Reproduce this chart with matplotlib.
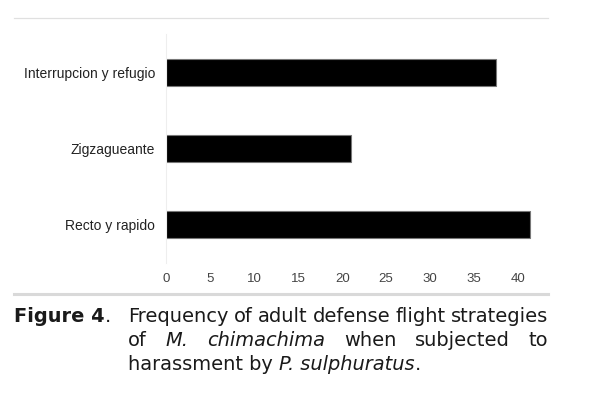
import matplotlib
matplotlib.use("Agg")
import matplotlib.pyplot as plt
from matplotlib.lines import Line2D

categories = ["Recto y rapido", "Zigzagueante", "Interrupcion y refugio"]
values = [41.4, 21.0, 37.5]
xticks = [0, 5, 10, 15, 20, 25, 30, 35, 40]

W, H = 589, 395
fig = plt.figure(figsize=(W / 100, H / 100), dpi=100)

def fx(px):
    return px / W

def fy(py):
    return 1 - py / H

ax_left, ax_right, ax_top, ax_bot = 166.4, 548, 34, 263
ax = fig.add_axes([fx(ax_left), fy(ax_bot), fx(ax_right - ax_left), (ax_bot - ax_top) / H])
ypos = list(range(len(categories)))
ax.barh(ypos, values, height=0.35, color="black", edgecolor="#777777", linewidth=0.8)
ax.set_xlim(0, (ax_right - ax_left) / 8.79)
ax.set_ylim(-0.5, len(categories) - 0.5)
ax.set_yticks(ypos)
ax.set_yticklabels(categories, fontfamily="Liberation Sans", fontsize=10, color="#222222")
ax.set_xticks(xticks)
ax.set_xticklabels([str(t) for t in xticks], fontfamily="Liberation Sans", fontsize=9.5, color="#444444")
ax.tick_params(axis="both", length=0)
ax.tick_params(axis="x", pad=7.5)
ax.tick_params(axis="y", pad=8)
for s in ["top", "right", "bottom"]:
    ax.spines[s].set_visible(False)
ax.spines["left"].set_color("#eeeeee")
ax.spines["left"].set_linewidth(0.8)

# decorative rules
fig.add_artist(Line2D([fx(14), fx(548)], [fy(18), fy(18)], color="#e0e0e0", lw=0.9))
fig.add_artist(Line2D([fx(14), fx(548)], [fy(294), fy(294)], color="#d9d9d9", lw=2.2))

# caption
cap_font = "DejaVu Sans"
col = "#1a1a1a"
renderer = fig.canvas.get_renderer()

def width_of(t):
    return t.get_window_extent(renderer=renderer).width

def measure(txt, size, **kw):
    t = fig.text(0, 0, txt, fontfamily=cap_font, fontsize=size, **kw)
    w = width_of(t)
    t.remove()
    return w

line1 = "Frequency of adult defense flight strategies"
cs = 12 * (548 - 128) / measure(line1, 12)

fig.text(fx(14), fy(322), "Figure 4", fontfamily=cap_font, fontsize=cs, color=col,
         weight="bold", va="baseline")
wb = measure("Figure 4", cs, weight="bold")
fig.text(fx(14) + wb / W, fy(322), ".", fontfamily=cap_font, fontsize=cs, color=col, va="baseline")

def justify(words, y, x0, x1):
    arts = []
    for txt, style in words:
        a = fig.text(0, fy(y), txt, fontfamily=cap_font, fontsize=cs, color=col,
                     style=style, va="baseline", ha="left")
        arts.append(a)
    widths = [width_of(a) for a in arts]
    gap = (x1 - x0 - sum(widths)) / (len(arts) - 1)
    x = x0
    for a, w in zip(arts, widths):
        a.set_x(fx(x))
        x += w + gap

justify([(w, "normal") for w in line1.split()], 322, 128, 548)
justify([("of", "normal"), ("M.", "italic"), ("chimachima", "italic"), ("when", "normal"),
         ("subjected", "normal"), ("to", "normal")], 346, 128, 548)

parts = [("harassment by ", "normal"), ("P. sulphuratus", "italic"), (".", "normal")]
x = 128
for txt, st in parts:
    a = fig.text(fx(x), fy(370), txt, fontfamily=cap_font, fontsize=cs, color=col,
                 style=st, va="baseline", ha="left")
    x += width_of(a)

fig.savefig("out.png", dpi=100, facecolor="white")
